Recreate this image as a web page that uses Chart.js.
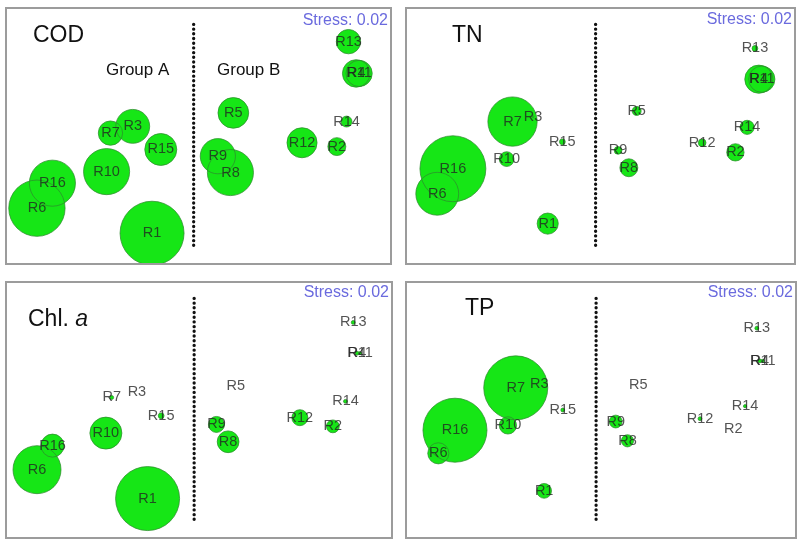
<!DOCTYPE html>
<html><head><meta charset="utf-8">
<script src="https://cdn.jsdelivr.net/npm/chart.js@4.4.1/dist/chart.umd.min.js"></script>
<style>
html,body{margin:0;padding:0;background:#fff;}
#wrap{position:relative;width:800px;height:547px;overflow:hidden;background:#fff;}
.panel{position:absolute;}
canvas{display:block;}
</style></head><body><div id="wrap"></div>
<script>
// Site labels
const sites = ['R1','R2','R3','R4','R5','R6','R7','R8','R9','R10','R11','R12','R13','R14','R15','R16'];

// NMDS ordination coordinates per panel
const codX = [-0.48, 1.43, -0.68, 1.63, 0.36, -1.67, -0.91, 0.33, 0.20, -0.95, 1.66, 1.07, 1.55, 1.53, -0.39, -1.51];
const codY = [-1.01, -0.11, 0.10, 0.65, 0.24, -0.75, 0.03, -0.38, -0.21, -0.37, 0.65, -0.07, 0.98, 0.15, -0.14, -0.49];
const tnX  = [-0.54, 1.38, -0.69, 1.62, 0.37, -1.67, -0.90, 0.29, 0.18, -0.96, 1.65, 1.04, 1.58, 1.50, -0.39, -1.51];
const tnY  = [-0.91, -0.17, 0.20, 0.59, 0.26, -0.60, 0.15, -0.33, -0.15, -0.24, 0.59, -0.07, 0.91, 0.09, -0.06, -0.34];
const chlX = [-0.53, 1.38, -0.64, 1.63, 0.38, -1.67, -0.90, 0.30, 0.18, -0.96, 1.66, 1.04, 1.59, 1.51, -0.39, -1.51];
const chlY = [-0.92, -0.17, 0.19, 0.59, 0.25, -0.62, 0.13, -0.33, -0.15, -0.24, 0.59, -0.08, 0.91, 0.09, -0.06, -0.37];
const tpX  = [-0.58, 1.35, -0.63, 1.62, 0.38, -1.66, -0.87, 0.27, 0.15, -0.95, 1.65, 1.01, 1.59, 1.47, -0.39, -1.49];
const tpY  = [-0.84, -0.20, 0.27, 0.51, 0.26, -0.45, 0.23, -0.32, -0.12, -0.16, 0.51, -0.09, 0.85, 0.04, 0.00, -0.21];

// Relative bubble magnitudes (max = 10)
const codSize = [10, 2.8, 5.3, 4.3, 4.8, 8.8, 3.8, 7.2, 5.5, 7.2, 4.1, 4.7, 3.8, 1.7, 5.0, 7.2];
const tnSize  = [3.3, 2.7, 0.3, 4.4, 1.4, 6.7, 7.7, 2.8, 1.2, 2.3, 4.1, 1.2, 0.9, 2.2, 0.9, 10.3];
const chlSize = [10, 2.0, 0, 0.6, 0, 7.5, 0.6, 3.4, 2.5, 5.0, 0.5, 2.5, 0.6, 0.6, 0.9, 3.6];
const tpSize  = [2.3, 0, 0, 0.6, 0, 3.3, 10, 1.9, 2.0, 2.7, 0.5, 0.6, 0.6, 0.5, 0.6, 10];

const titleMain   = ['COD', 'TN', 'Chl. ', 'TP'];
const titleItalic = ['', '', 'a', ''];
const stressText = 'Stress: 0.02';
const groupLabels = ['Group A', 'Group B'];
const groupDivider = -0.05;
const dividerSpan = [1.16, -1.18];

const RSCALE = 3.2;
const FONT = '"Liberation Sans", Arial, Helvetica, sans-serif';

const panels = [
  {x: codX, y: codY, size: codSize, t: 0, left: 5,   top: 7,   w: 387, h: 258, titlePos: [28, 29], stressY: 14, groups: true},
  {x: tnX,  y: tnY,  size: tnSize,  t: 1, left: 405, top: 7,   w: 391, h: 258, titlePos: [47, 29], stressY: 13, groups: false},
  {x: chlX, y: chlY, size: chlSize, t: 2, left: 5,   top: 281, w: 388, h: 258, titlePos: [23, 39], stressY: 12, groups: false},
  {x: tpX,  y: tpY,  size: tpSize,  t: 3, left: 405, top: 281, w: 392, h: 258, titlePos: [60, 28], stressY: 12, groups: false}
];

const overlay = {
  id: 'overlay',
  afterDatasetsDraw(chart, args, opts) {
    const p = opts.panel;
    const ctx = chart.ctx;
    const xs = chart.scales.x, ys = chart.scales.y;
    ctx.save();
    // site labels
    ctx.font = '14.5px ' + FONT;
    ctx.fillStyle = 'rgba(35,35,35,0.78)';
    ctx.textAlign = 'center';
    ctx.textBaseline = 'middle';
    sites.forEach((s, i) => {
      ctx.fillText(s, xs.getPixelForValue(p.x[i]), ys.getPixelForValue(p.y[i]));
    });
    // title
    ctx.fillStyle = '#111';
    ctx.textAlign = 'left';
    ctx.font = '23px ' + FONT;
    const main = titleMain[p.t];
    ctx.fillText(main, p.titlePos[0], p.titlePos[1]);
    if (titleItalic[p.t]) {
      const wMain = ctx.measureText(main).width;
      ctx.font = 'italic 23px ' + FONT;
      ctx.fillText(titleItalic[p.t], p.titlePos[0] + wMain, p.titlePos[1]);
    }
    // group labels
    if (p.groups) {
      ctx.font = '17px ' + FONT;
      ctx.fillStyle = '#111';
      ctx.fillText(groupLabels[0], 101, 63);
      ctx.fillText(groupLabels[1], 212, 63);
    }
    // stress
    ctx.font = '16px ' + FONT;
    ctx.fillStyle = '#6a6ade';
    ctx.textAlign = 'right';
    ctx.fillText(stressText, chart.width - 4, p.stressY);
    // frame
    ctx.strokeStyle = '#9c9c9c';
    ctx.lineWidth = 2;
    ctx.strokeRect(1, 1, chart.width - 2, chart.height - 2);
    ctx.restore();
  }
};

const wrap = document.getElementById('wrap');
panels.forEach(p => {
  const div = document.createElement('div');
  div.className = 'panel';
  div.style.left = p.left + 'px';
  div.style.top = p.top + 'px';
  div.style.width = p.w + 'px';
  div.style.height = p.h + 'px';
  const cv = document.createElement('canvas');
  cv.width = p.w; cv.height = p.h;
  cv.style.width = p.w + 'px'; cv.style.height = p.h + 'px';
  div.appendChild(cv);
  wrap.appendChild(div);

  const pts = p.x.map((x, i) => ({x: x, y: p.y[i], r: p.size[i] * RSCALE}));
  new Chart(cv.getContext('2d'), {
    type: 'bubble',
    data: {
      datasets: [
        {type: 'line', data: [{x: groupDivider, y: dividerSpan[0]}, {x: groupDivider, y: dividerSpan[1]}],
         borderColor: '#111', borderWidth: 3.3, borderDash: [0.1, 4.6], borderCapStyle: 'round',
         pointRadius: 0, fill: false, order: 0, clip: false},
        {data: pts, backgroundColor: 'rgba(0,0,0,0)', borderColor: 'rgba(45,140,45,0.75)', borderWidth: 1, order: 1, clip: false},
        {data: pts, backgroundColor: '#16e616', borderWidth: 0, order: 2, clip: false}
      ]
    },
    options: {
      responsive: false,
      devicePixelRatio: 1,
      animation: false,
      events: [],
      layout: {padding: 0, autoPadding: false},
      plugins: {legend: {display: false}, tooltip: {enabled: false}, overlay: {panel: p}},
      scales: {
        x: {type: 'linear', min: -2, max: 2, display: false},
        y: {type: 'linear', min: -1.34, max: 1.34, display: false}
      }
    },
    plugins: [overlay]
  });
});
</script>
</body></html>
